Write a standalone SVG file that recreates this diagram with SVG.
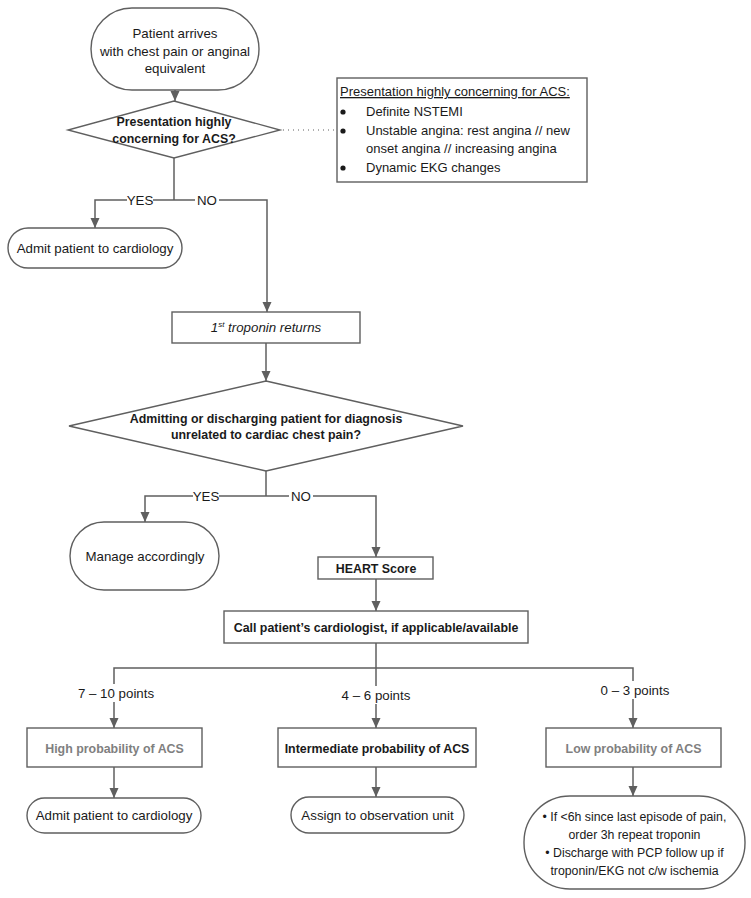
<svg xmlns="http://www.w3.org/2000/svg" width="751" height="898" viewBox="0 0 751 898">
<defs>
<marker id="ah" markerUnits="userSpaceOnUse" markerWidth="10" markerHeight="10" refX="10" refY="5" orient="auto">
<path d="M0,0.5 L10,5 L0,9.5 z" fill="#5f5f5f"/>
</marker>
<style>
.shape{fill:#fff;stroke:#5f5f5f;stroke-width:1.4}
.ln{fill:none;stroke:#5f5f5f;stroke-width:1.5}
.arr{fill:none;stroke:#5f5f5f;stroke-width:1.5;marker-end:url(#ah)}
text{font-family:"Liberation Sans",Arial,sans-serif;fill:#1a1a1a;text-anchor:middle}
.t{font-size:13.3px}
.b{font-size:12.4px;font-weight:bold}
.g{fill:#7f7f7f}
.s{font-size:12.3px}
.l{text-anchor:start;font-size:13px}
.bg{fill:#fff}
</style>
</defs>
<rect width="751" height="898" fill="#fff"/>

<g id="connectors">
<line class="arr" x1="175" y1="90" x2="175" y2="101"/>
<line class="ln" x1="174" y1="158" x2="174" y2="200"/>
<line x1="283" y1="130" x2="336" y2="130" stroke="#5f5f5f" stroke-width="1" stroke-dasharray="1,4"/>
<polyline class="arr" points="174,200 95,200 95,228"/>
<polyline class="arr" points="174,200 267,200 267,312"/>
<rect class="bg" x="127" y="192" width="26" height="16"/>
<text class="t" x="140" y="205">YES</text>
<rect class="bg" x="195" y="192" width="24" height="16"/>
<text class="t" x="207" y="205">NO</text>
<line class="arr" x1="266" y1="343" x2="266" y2="381"/>
<line class="ln" x1="266" y1="471" x2="266" y2="496"/>
<polyline class="arr" points="266,496 145,496 145,522"/>
<polyline class="arr" points="266,496 376,496 376,557"/>
<rect class="bg" x="193" y="488" width="26" height="16"/>
<text class="t" x="206" y="501">YES</text>
<rect class="bg" x="289" y="488" width="24" height="16"/>
<text class="t" x="301" y="501">NO</text>
<line class="arr" x1="376" y1="579" x2="376" y2="611"/>
<line class="ln" x1="376" y1="643" x2="376" y2="668"/>
<polyline class="arr" points="376,668 114,668 114,728"/>
<line class="arr" x1="376" y1="668" x2="376" y2="728"/>
<polyline class="arr" points="376,668 633,668 633,728"/>
<rect class="bg" x="76" y="684" width="80" height="18"/>
<text class="t" x="116" y="698">7 – 10 points</text>
<rect class="bg" x="340" y="686" width="74" height="18"/>
<text class="t" x="376" y="700">4 – 6 points</text>
<rect class="bg" x="598" y="681" width="74" height="18"/>
<text class="t" x="635" y="695">0 – 3 points</text>
<line class="arr" x1="114" y1="767" x2="114" y2="798"/>
<line class="arr" x1="376" y1="767" x2="376" y2="797"/>
<line class="arr" x1="633" y1="767" x2="633" y2="796"/>
</g>

<g id="start">
<rect class="shape" x="91" y="8" width="168" height="82" rx="41"/>
<text class="t" x="175" y="38">Patient arrives</text>
<text class="t" x="175" y="55.5">with chest pain or anginal</text>
<text class="t" x="175" y="73">equivalent</text>
</g>

<g id="decision1">
<polygon class="shape" points="174,101 280,130 174,158 68,130"/>
<text class="b" x="174" y="126">Presentation highly</text>
<text class="b" x="174" y="142.5">concerning for ACS?</text>
</g>

<g id="note">
<rect class="shape" x="337" y="78" width="250" height="104"/>
<text class="l" x="340" y="96" text-decoration="underline">Presentation highly concerning for ACS:</text>
<circle cx="343" cy="112" r="2.6" fill="#1a1a1a"/>
<circle cx="343" cy="131" r="2.6" fill="#1a1a1a"/>
<circle cx="343" cy="168" r="2.6" fill="#1a1a1a"/>
<text class="l" x="366" y="116">Definite NSTEMI</text>
<text class="l" x="366" y="135">Unstable angina: rest angina // new</text>
<text class="l" x="366" y="153">onset angina // increasing angina</text>
<text class="l" x="366" y="172">Dynamic EKG changes</text>
</g>

<g id="admit1">
<rect class="shape" x="8" y="228" width="174" height="40" rx="20"/>
<text class="t" x="95" y="252.5">Admit patient to cardiology</text>
</g>

<g id="troponin">
<rect class="shape" x="172" y="312" width="188" height="31"/>
<text class="t" x="266" y="332" font-style="italic">1<tspan font-size="8" dy="-5">st</tspan><tspan dy="5"> troponin returns</tspan></text>
</g>

<g id="decision2">
<polygon class="shape" points="266,381 463,426 266,471 69,426"/>
<text class="b" x="266" y="422.5">Admitting or discharging patient for diagnosis</text>
<text class="b" x="266" y="439">unrelated to cardiac chest pain?</text>
</g>

<g id="manage">
<rect class="shape" x="70" y="522" width="149" height="68" rx="34"/>
<text class="t" x="145" y="560.5">Manage accordingly</text>
</g>

<g id="heart">
<rect class="shape" x="318" y="557" width="115" height="22"/>
<text class="b" x="376" y="572.5">HEART Score</text>
</g>

<g id="call">
<rect class="shape" x="224" y="611" width="304" height="32"/>
<text class="b" x="376" y="631.5">Call patient’s cardiologist, if applicable/available</text>
</g>

<g id="high">
<rect class="shape" x="27" y="728" width="175" height="39"/>
<text class="b g" x="114.5" y="752.5">High probability of ACS</text>
</g>

<g id="intermediate">
<rect class="shape" x="278" y="728" width="198" height="39"/>
<text class="b" x="377" y="752.5">Intermediate probability of ACS</text>
</g>

<g id="low">
<rect class="shape" x="546" y="728" width="175" height="39"/>
<text class="b g" x="633.5" y="752.5">Low probability of ACS</text>
</g>

<g id="admit2">
<rect class="shape" x="27" y="798" width="174" height="35" rx="17.5"/>
<text class="t" x="114" y="820">Admit patient to cardiology</text>
</g>

<g id="observation">
<rect class="shape" x="291" y="797" width="173" height="36" rx="18"/>
<text class="t" x="377.5" y="819.5">Assign to observation unit</text>
</g>

<g id="discharge">
<rect class="shape" x="524" y="796" width="221" height="93" rx="46"/>
<text class="s" x="634.5" y="820.5">• If &lt;6h since last episode of pain,</text>
<text class="s" x="634.5" y="839">order 3h repeat troponin</text>
<text class="s" x="634.5" y="857">• Discharge with PCP follow up if</text>
<text class="s" x="634.5" y="875">troponin/EKG not c/w ischemia</text>
</g>
</svg>
